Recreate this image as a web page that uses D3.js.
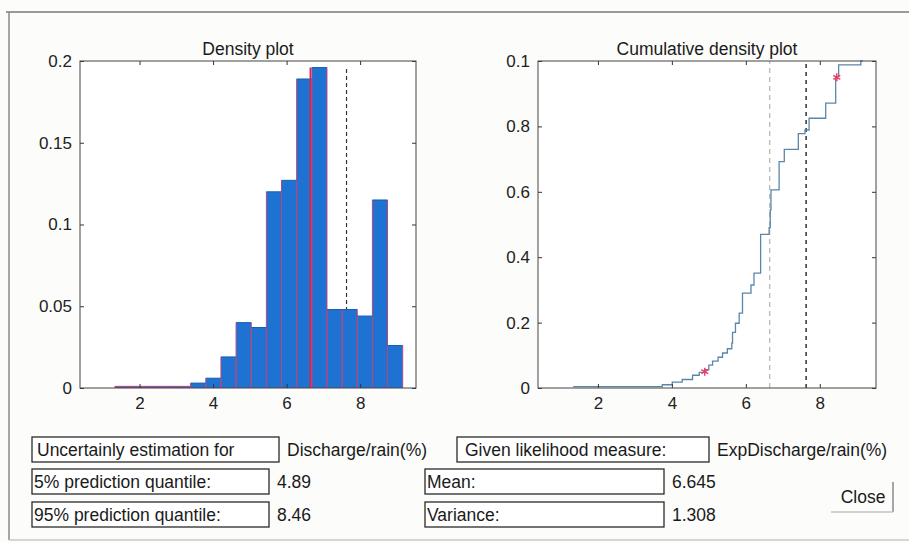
<!DOCTYPE html>
<html>
<head>
<meta charset="utf-8">
<script src="https://cdn.jsdelivr.net/npm/d3@7/dist/d3.min.js"></script>
<style>
  html, body { margin: 0; padding: 0; background: #fcfcfa; }
  svg { display: block; font-family: "Liberation Sans", Arial, Helvetica, sans-serif; }
  .tick text { font-size: 17px; fill: #222; }
  .lbl { font-size: 17.5px; fill: #1a1a1a; }
</style>
</head>
<body>
<svg id="chart" width="909" height="542"></svg>
<script>
// Histogram bins (centres, width) and probability per bin
const binCenters = [1.536, 1.948, 2.360, 2.772, 3.184, 3.596, 4.008, 4.420, 4.832, 5.244,
                    5.656, 6.068, 6.480, 6.892, 7.304, 7.716, 8.128, 8.540, 8.952];
const binWidth = 0.412;
const density = [0.001, 0.001, 0.001, 0.001, 0.001, 0.003, 0.006, 0.019, 0.040, 0.037,
                 0.120, 0.127, 0.189, 0.196, 0.048, 0.048, 0.044, 0.115, 0.026];

// Empirical cumulative distribution (step positions and levels)
const cdfX = [1.33, 3.74, 4.01, 4.28, 4.56, 4.74, 4.89, 5.00, 5.10, 5.25, 5.37, 5.50, 5.62,
              5.64, 5.72, 5.82, 5.91, 6.14, 6.22, 6.40, 6.63, 6.66, 6.68, 6.90, 7.04,
              7.42, 7.60, 7.71, 8.16, 8.43, 8.51, 9.11, 9.16];
const cdfY = [0.004, 0.010, 0.018, 0.026, 0.039, 0.048, 0.056, 0.070, 0.082, 0.094, 0.107, 0.120, 0.137,
              0.170, 0.198, 0.229, 0.290, 0.315, 0.351, 0.470, 0.490, 0.545, 0.606, 0.692, 0.730,
              0.778, 0.789, 0.825, 0.871, 0.952, 0.988, 1.000, 1.000];

// Summary statistics
const q05 = 4.89, q95 = 8.46, meanVal = 6.645, varianceVal = 1.308;
const observed = 7.63;

// Tick values and labels
const xTicks = [2, 4, 6, 8];
const densTicks = [0, 0.05, 0.1, 0.15, 0.2];
const densTickLabels = ["0", "0.05", "0.1", "0.15", "0.2"];
const cdfTicks = [0, 0.2, 0.4, 0.6, 0.8, 1];
const cdfTickLabels = ["0", "0.2", "0.4", "0.6", "0.8", "0.1"];

// Info panel text
const infoRows = [
  { box: "Uncertainly estimation for", value: "Discharge/rain(%)" },
  { box: "5% prediction quantile:", value: String(q05) },
  { box: "95% prediction quantile:", value: String(q95) }
];
const infoRowsRight = [
  { box: "Given likelihood measure:", value: "ExpDischarge/rain(%)" },
  { box: "Mean:", value: String(meanVal) },
  { box: "Variance:", value: String(varianceVal) }
];

const svg = d3.select("#chart");

// window frame
svg.append("line").attr("x1", 6).attr("x2", 909).attr("y1", 12).attr("y2", 12)
  .attr("stroke", "#9a9a9a").attr("stroke-width", 2);
svg.append("line").attr("x1", 9).attr("x2", 9).attr("y1", 12).attr("y2", 540)
  .attr("stroke", "#8a8a8a").attr("stroke-width", 1.5);
svg.append("line").attr("x1", 9).attr("x2", 909).attr("y1", 540).attr("y2", 540)
  .attr("stroke", "#b0b0b0").attr("stroke-width", 1);

function plotBackground(g, w, h) {
  g.append("rect").attr("x", 0).attr("y", 0).attr("width", w).attr("height", h)
    .attr("fill", "#ffffff");
}

function frameAxes(g, x, y, yTicks, yLabels, w, h) {
  const fmt = d => yLabels[yTicks.indexOf(d)];
  g.append("g").attr("transform", `translate(0,${h})`)
    .call(d3.axisBottom(x).tickValues(xTicks).tickSizeInner(-4).tickSizeOuter(0).tickPadding(9))
    .call(a => a.select(".domain").remove());
  g.append("g")
    .call(d3.axisTop(x).tickValues(xTicks).tickSizeInner(-4).tickSizeOuter(0).tickFormat(""))
    .call(a => a.select(".domain").remove());
  g.append("g")
    .call(d3.axisLeft(y).tickValues(yTicks).tickFormat(fmt).tickSizeInner(-4).tickSizeOuter(0).tickPadding(8))
    .call(a => a.select(".domain").remove());
  g.append("g").attr("transform", `translate(${w},0)`)
    .call(d3.axisRight(y).tickValues(yTicks).tickFormat("").tickSizeInner(-4).tickSizeOuter(0))
    .call(a => a.select(".domain").remove());
  g.selectAll(".tick line").attr("stroke", "#333");
  g.append("rect").attr("x", 0).attr("y", 0).attr("width", w).attr("height", h)
    .attr("fill", "none").attr("stroke", "#444").attr("stroke-width", 1);
}

// ---------- Density plot ----------
{
  const L = 80, T = 61, W = 336, H = 327;
  const g = svg.append("g").attr("transform", `translate(${L},${T})`);
  const x = d3.scaleLinear().domain([0.38, 9.52]).range([0, W]);
  const y = d3.scaleLinear().domain([0, 0.2]).range([H, 0]);
  plotBackground(g, W, H);

  g.append("text").attr("class", "lbl").attr("x", W / 2).attr("y", -6)
    .attr("text-anchor", "middle").text("Density plot");

  const ymax = d3.max(density);
  // observed value (dashed), behind bars
  g.append("line").attr("x1", x(observed)).attr("x2", x(observed))
    .attr("y1", y(0)).attr("y2", y(ymax))
    .attr("stroke", "#333").attr("stroke-width", 1.2).attr("stroke-dasharray", "4,3");

  // bar bodies
  g.selectAll("rect.bar").data(binCenters).join("rect").attr("class", "bar")
    .attr("x", d => x(d - binWidth / 2))
    .attr("width", d => x(d + binWidth / 2) - x(d - binWidth / 2))
    .attr("y", (d, i) => y(density[i]))
    .attr("height", (d, i) => y(0) - y(density[i]))
    .attr("fill", "#1d72d2");
  // bar side edges in reddish purple, tops in dark blue
  const sides = binCenters.flatMap((c, i) => [[c - binWidth / 2, density[i]], [c + binWidth / 2, density[i]]]);
  g.selectAll("line.edge").data(sides).join("line").attr("class", "edge")
    .attr("x1", d => x(d[0])).attr("x2", d => x(d[0]))
    .attr("y1", y(0)).attr("y2", d => y(d[1]))
    .attr("stroke", "#b8467e").attr("stroke-width", 1);
  g.selectAll("line.top").data(binCenters).join("line").attr("class", "top")
    .attr("x1", d => x(d - binWidth / 2)).attr("x2", d => x(d + binWidth / 2))
    .attr("y1", (d, i) => y(density[i])).attr("y2", (d, i) => y(density[i]))
    .attr("stroke", (d, i) => density[i] < 0.002 ? "#d0346e" : "#1a5fb4").attr("stroke-width", 1);

  // mean line
  g.append("line").attr("x1", x(meanVal)).attr("x2", x(meanVal))
    .attr("y1", y(0)).attr("y2", y(ymax))
    .attr("stroke", "#e0204a").attr("stroke-width", 1.5);

  frameAxes(g, x, y, densTicks, densTickLabels, W, H);
}

// ---------- Cumulative density plot ----------
{
  const L = 538, T = 61, W = 338, H = 327;
  const g = svg.append("g").attr("transform", `translate(${L},${T})`);
  const x = d3.scaleLinear().domain([0.38, 9.52]).range([0, W]);
  const y = d3.scaleLinear().domain([0, 1]).range([H, 0]);
  plotBackground(g, W, H);

  g.append("text").attr("class", "lbl").attr("x", W / 2).attr("y", -6)
    .attr("text-anchor", "middle").text("Cumulative density plot");

  g.append("line").attr("x1", x(meanVal)).attr("x2", x(meanVal))
    .attr("y1", y(0)).attr("y2", y(1))
    .attr("stroke", "#b8b8b8").attr("stroke-width", 1.3).attr("stroke-dasharray", "5,4");
  g.append("line").attr("x1", x(observed)).attr("x2", x(observed))
    .attr("y1", y(0)).attr("y2", y(1))
    .attr("stroke", "#222").attr("stroke-width", 1.4).attr("stroke-dasharray", "4,4");

  const pts = cdfX.map((v, i) => [v, cdfY[i]]);
  g.append("path").datum(pts)
    .attr("d", d3.line().x(d => x(d[0])).y(d => y(d[1])).curve(d3.curveStepAfter))
    .attr("fill", "none").attr("stroke", "#5a86aa").attr("stroke-width", 1.3);

  const star = d3.symbol().type(d3.symbolAsterisk).size(45);
  g.selectAll("path.q").data([[q05, 0.05], [q95, 0.95]]).join("path").attr("class", "q")
    .attr("d", star)
    .attr("transform", d => `translate(${x(d[0])},${y(d[1])})`)
    .attr("fill", "none").attr("stroke", "#e8406a").attr("stroke-width", 1.5);

  frameAxes(g, x, y, cdfTicks, cdfTickLabels, W, H);
}

// ---------- Info panel ----------
const rowTops = [437, 469, 502];
const rowH = 25;
const leftBoxes = [[32, 279], [32, 269], [32, 269]];
const rightBoxes = [[457, 709], [425, 664], [425, 664]];

function drawRow(row, box, top, textPad) {
  svg.append("rect").attr("x", box[0]).attr("y", top).attr("width", box[1] - box[0]).attr("height", rowH)
    .attr("fill", "#ffffff").attr("stroke", "#2a2a2a").attr("stroke-width", 1.3);
  svg.append("text").attr("class", "lbl").attr("x", box[0] + textPad).attr("y", top + 18.5).text(row.box);
  svg.append("text").attr("class", "lbl").attr("x", box[1] + 8).attr("y", top + 18.5).text(row.value);
}
infoRows.forEach((r, i) => drawRow(r, leftBoxes[i], rowTops[i], i === 0 ? 5 : 2));
infoRowsRight.forEach((r, i) => drawRow(r, rightBoxes[i], rowTops[i], i === 0 ? 8 : 2));

// Close button
svg.append("line").attr("x1", 893).attr("x2", 893).attr("y1", 482).attr("y2", 512)
  .attr("stroke", "#8a8a8a").attr("stroke-width", 1.5);
svg.append("line").attr("x1", 831).attr("x2", 893).attr("y1", 512).attr("y2", 512)
  .attr("stroke", "#c4c4c4").attr("stroke-width", 1.5);
svg.append("text").attr("class", "lbl").attr("x", 863).attr("y", 503)
  .attr("text-anchor", "middle").text("Close");
</script>
</body>
</html>
